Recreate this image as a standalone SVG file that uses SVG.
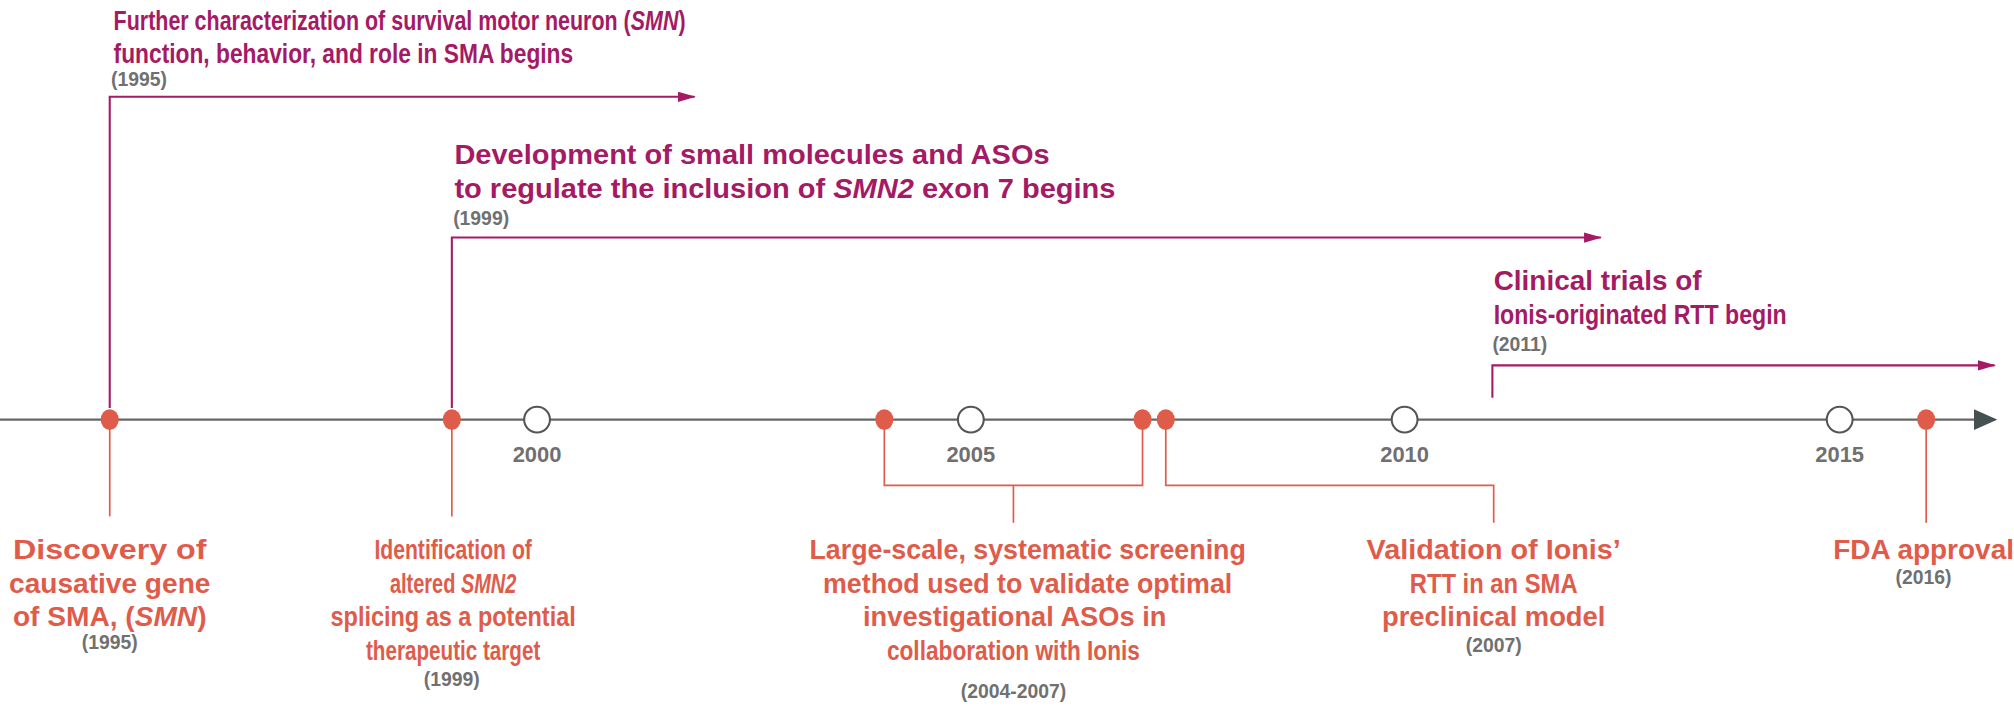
<svg xmlns="http://www.w3.org/2000/svg" width="2014" height="706" viewBox="0 0 2014 706">
<style>
.t{font-family:"Liberation Sans",Arial,sans-serif;font-weight:bold;font-size:21px;fill:#a51a64}
.b{font-family:"Liberation Sans",Arial,sans-serif;font-weight:bold;font-size:21px;fill:#e05c4a;text-anchor:middle}
.y{font-family:"Liberation Sans",Arial,sans-serif;font-weight:bold;font-size:15px;fill:#707070}
.x{font-family:"Liberation Sans",Arial,sans-serif;font-weight:bold;font-size:17px;fill:#707070;text-anchor:middle}
.m{text-anchor:middle}
.mg{stroke:#a51a64;stroke-width:1.6;fill:none}
.or{stroke:#e05c4a;stroke-width:1.3;fill:none}
.dot{fill:#e05c4a}
.open{fill:#fff;stroke:#555;stroke-width:1.6}
</style>
<defs>
<marker id="am" markerWidth="14" markerHeight="8" refX="13" refY="4" orient="auto" markerUnits="userSpaceOnUse"><path d="M0,0L14,4L0,8z" fill="#a51a64"/></marker>
<marker id="ag" markerWidth="18" markerHeight="16" refX="16" refY="8" orient="auto" markerUnits="userSpaceOnUse"><path d="M0,0L18,8L0,16z" fill="#455050"/></marker>
</defs>
<g transform="scale(1.291)">
<g id="connectors">
<line x1="0" y1="325" x2="1545" y2="325" stroke="#666" stroke-width="1.8" marker-end="url(#ag)"/>
<path class="mg" d="M85,316V75H538" marker-end="url(#am)"/>
<path class="mg" d="M350,316V184H1240" marker-end="url(#am)"/>
<path class="mg" d="M1156,308V283H1545" marker-end="url(#am)"/>
<path class="or" d="M85,330V400"/>
<path class="or" d="M350,330V400"/>
<path class="or" d="M685,330V376H885V330"/>
<path class="or" d="M785,376V405"/>
<path class="or" d="M903,330V376H1157V405"/>
<path class="or" d="M1492,330V405"/>
</g>
<g id="ticks">
<ellipse class="open" cx="416" cy="325" rx="10" ry="10"/><text class="x" x="416" y="358">2000</text>
<ellipse class="open" cx="752" cy="325" rx="10" ry="10"/><text class="x" x="752" y="358">2005</text>
<ellipse class="open" cx="1088" cy="325" rx="10" ry="10"/><text class="x" x="1088" y="358">2010</text>
<ellipse class="open" cx="1425" cy="325" rx="10" ry="10"/><text class="x" x="1425" y="358">2015</text>
</g>
<g id="d1995"><ellipse class="dot" cx="85" cy="325" rx="7" ry="8"/></g>
<g id="d1999"><ellipse class="dot" cx="350" cy="325" rx="7" ry="8"/></g>
<g id="d2004"><ellipse class="dot" cx="685" cy="325" rx="7" ry="8"/></g>
<g id="d2007a"><ellipse class="dot" cx="885" cy="325" rx="7" ry="8"/></g>
<g id="d2007b"><ellipse class="dot" cx="903" cy="325" rx="7" ry="8"/></g>
<g id="d2016"><ellipse class="dot" cx="1492" cy="325" rx="7" ry="8"/></g>
<g id="top1">
<text class="t" x="88" y="23" textLength="443" lengthAdjust="spacingAndGlyphs">Further characterization of survival motor neuron (<tspan font-style="italic">SMN</tspan>)</text>
<text class="t" x="88" y="49" textLength="356" lengthAdjust="spacingAndGlyphs">function, behavior, and role in SMA begins</text>
<text class="y" x="86" y="67">(1995)</text>
</g>
<g id="top2">
<text class="t" x="352" y="127" textLength="461" lengthAdjust="spacingAndGlyphs">Development of small molecules and ASOs</text>
<text class="t" x="352" y="153" textLength="512" lengthAdjust="spacingAndGlyphs">to regulate the inclusion of <tspan font-style="italic">SMN2</tspan> exon 7 begins</text>
<text class="y" x="351" y="174">(1999)</text>
</g>
<g id="top3">
<text class="t" x="1157" y="225" textLength="161" lengthAdjust="spacingAndGlyphs">Clinical trials of</text>
<text class="t" x="1157" y="251" textLength="227" lengthAdjust="spacingAndGlyphs">Ionis-originated RTT begin</text>
<text class="y" x="1156" y="272">(2011)</text>
</g>
<g id="b1">
<text class="b" x="85" y="433" textLength="150" lengthAdjust="spacingAndGlyphs">Discovery of</text>
<text class="b" x="85" y="459" textLength="156" lengthAdjust="spacingAndGlyphs">causative gene</text>
<text class="b" x="85" y="485" textLength="150" lengthAdjust="spacingAndGlyphs">of SMA, (<tspan font-style="italic">SMN</tspan>)</text>
<text class="y m" x="85" y="503">(1995)</text>
</g>
<g id="b2">
<text class="b" x="351" y="433" textLength="122" lengthAdjust="spacingAndGlyphs">Identification of</text>
<text class="b" x="351" y="459" textLength="98" lengthAdjust="spacingAndGlyphs">altered <tspan font-style="italic">SMN2</tspan></text>
<text class="b" x="351" y="485" textLength="190" lengthAdjust="spacingAndGlyphs">splicing as a potential</text>
<text class="b" x="351" y="511" textLength="135" lengthAdjust="spacingAndGlyphs">therapeutic target</text>
<text class="y m" x="350" y="531">(1999)</text>
</g>
<g id="b3">
<text class="b" x="796" y="433" textLength="338" lengthAdjust="spacingAndGlyphs">Large-scale, systematic screening</text>
<text class="b" x="796" y="459" textLength="317" lengthAdjust="spacingAndGlyphs">method used to validate optimal</text>
<text class="b" x="786" y="485" textLength="235" lengthAdjust="spacingAndGlyphs">investigational ASOs in</text>
<text class="b" x="785" y="511" textLength="196" lengthAdjust="spacingAndGlyphs">collaboration with Ionis</text>
<text class="y m" x="785" y="541">(2004-2007)</text>
</g>
<g id="b4">
<text class="b" x="1157" y="433" textLength="197" lengthAdjust="spacingAndGlyphs">Validation of Ionis’</text>
<text class="b" x="1157" y="459" textLength="130" lengthAdjust="spacingAndGlyphs">RTT in an SMA</text>
<text class="b" x="1157" y="485" textLength="173" lengthAdjust="spacingAndGlyphs">preclinical model</text>
<text class="y m" x="1157" y="505">(2007)</text>
</g>
<g id="b5">
<text class="b" x="1490" y="433" textLength="140" lengthAdjust="spacingAndGlyphs">FDA approval</text>
<text class="y m" x="1490" y="452">(2016)</text>
</g>
</g>
</svg>
